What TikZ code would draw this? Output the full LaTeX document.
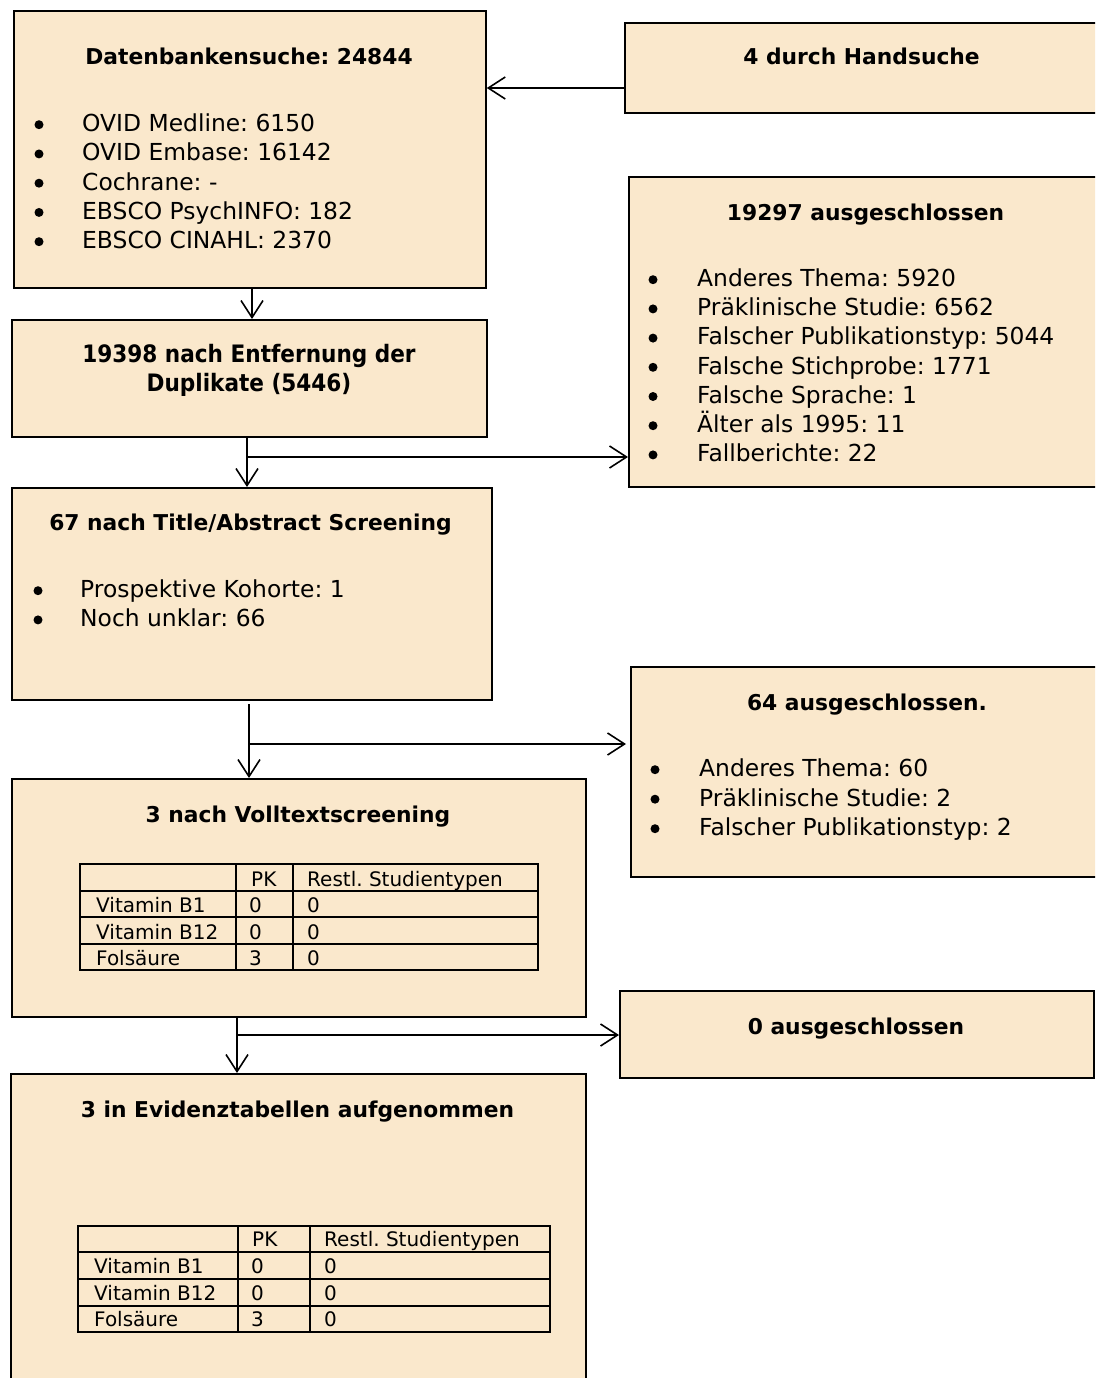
\documentclass[tikz,border=0pt]{standalone}
\usepackage{fontspec}
\setmainfont{DejaVu Sans}
\newfontfamily\condfont{DejaVu Sans Condensed}
\usetikzlibrary{arrows.meta}
\definecolor{beige}{RGB}{250,232,204}
\frenchspacing
\begin{document}
\begin{tikzpicture}[x=1pt,y=-1pt,
  box/.style={draw, line width=1.8pt, fill=beige, anchor=north west, inner sep=0pt},
  ttl/.style={inner sep=0pt, anchor=base, font=\bfseries\fontsize{21.8}{26}\selectfont},
  cttl/.style={inner sep=0pt, anchor=base, font=\condfont\bfseries\fontsize{24}{29}\selectfont},
  txt/.style={inner sep=0pt, anchor=base west, font=\fontsize{23.4}{28}\selectfont},
  bul/.style={circle, fill, inner sep=0pt, minimum size=9pt},
  cell/.style={inner sep=0pt, anchor=base west, font=\fontsize{20}{24}\selectfont},
  grid/.style={line width=1.8pt},
  arr/.style={line width=1.6pt, -{Straight Barb[length=17pt,width=22pt,line width=1.6pt]}}]
\clip (0,0) rectangle (1095,1378);

% boxes
\node[box, minimum width=472, minimum height=277] (A) at (13,10) {};
\node[box, minimum width=490, minimum height=90]  (B) at (624,22) {};
\node[box, minimum width=475, minimum height=117] (C) at (11,319) {};
\node[box, minimum width=490, minimum height=310] (D) at (628,176) {};
\node[box, minimum width=480, minimum height=212] (E) at (11,487) {};
\node[box, minimum width=490, minimum height=210] (F) at (630,666) {};
\node[box, minimum width=574, minimum height=238] (G) at (11,778) {};
\node[box, minimum width=474, minimum height=87]  (I) at (619,990) {};
\node[box, minimum width=575, minimum height=330] (H) at (10,1073) {};

% titles
\node[ttl] (tA) at (249,65) {Datenbankensuche: 24844};
\node[ttl] (tB) at (861.5,65) {4 durch Handsuche};
\node[cttl] (tC1) at (249,362) {19398 nach Entfernung der};
\node[cttl] (tC2) at (249,391) {Duplikate (5446)};
\node[ttl] (tD) at (865.5,220) {19297 ausgeschlossen};
\node[ttl] (tE) at (250.5,530) {67 nach Title/Abstract Screening};
\node[ttl] (tF) at (867,710) {64 ausgeschlossen.};
\node[ttl] (tG) at (298,822) {3 nach Volltextscreening};
\node[ttl] (tI) at (856,1034) {0 ausgeschlossen};
\node[ttl] (tH) at (297.5,1117) {3 in Evidenztabellen aufgenommen};

% bullet lists
\foreach \t [count=\i] in {OVID Medline: 6150, OVID Embase: 16142, Cochrane: -,
    EBSCO PsychINFO: 182, EBSCO CINAHL: 2370} {
  \node[bul] (Ab\i) at (39,{131.5+29.25*(\i-1)-6.8}) {};
  \node[txt] (At\i) at (82,{131.5+29.25*(\i-1)}) {\t};
}
\foreach \t [count=\i] in {Anderes Thema: 5920, Präklinische Studie: 6562,
    Falscher Publikationstyp: 5044, Falsche Stichprobe: 1771, Falsche Sprache: 1,
    Älter als 1995: 11, Fallberichte: 22} {
  \node[bul] (Db\i) at (653,{286.5+29.2*(\i-1)-6.8}) {};
  \node[txt] (Dt\i) at (697,{286.5+29.2*(\i-1)}) {\t};
}
\foreach \t [count=\i] in {Prospektive Kohorte: 1, Noch unklar: 66} {
  \node[bul] (Eb\i) at (38,{597.5+29.2*(\i-1)-6.8}) {};
  \node[txt] (Et\i) at (80,{597.5+29.2*(\i-1)}) {\t};
}
\foreach \t [count=\i] in {Anderes Thema: 60, Präklinische Studie: 2,
    Falscher Publikationstyp: 2} {
  \node[bul] (Fb\i) at (655,{776.5+29.5*(\i-1)-6.8}) {};
  \node[txt] (Ft\i) at (699,{776.5+29.5*(\i-1)}) {\t};
}

% table after full-text screening
\draw[grid] (80,864) rectangle (538,970);
\foreach \yy in {891,917,944} \draw[grid] (80,\yy) -- (538,\yy);
\foreach \xx in {236,293} \draw[grid] (\xx,864) -- (\xx,970);
\node[cell] (g01) at (251,886) {PK};
\node[cell] (g02) at (307,886) {Restl. Studientypen};
\foreach \r/\yy/\pk [count=\i] in {Vitamin B1/912.5/0, Vitamin B12/939/0, Folsäure/965/3} {
  \node[cell] (g\i0) at (96,\yy) {\r};
  \node[cell] (g\i1) at (249,\yy) {\pk};
  \node[cell] (g\i2) at (307,\yy) {0};
}

% table of included studies
\draw[grid] (78,1226) rectangle (550,1332);
\foreach \yy in {1252,1279,1306} \draw[grid] (78,\yy) -- (550,\yy);
\foreach \xx in {238,310} \draw[grid] (\xx,1226) -- (\xx,1332);
\node[cell] (h01) at (252,1246.5) {PK};
\node[cell] (h02) at (324,1246.5) {Restl. Studientypen};
\foreach \r/\yy/\pk [count=\i] in {Vitamin B1/1273/0, Vitamin B12/1300/0, Folsäure/1326/3} {
  \node[cell] (h\i0) at (94,\yy) {\r};
  \node[cell] (h\i1) at (251,\yy) {\pk};
  \node[cell] (h\i2) at (324,\yy) {0};
}

% connectors
\coordinate (b0) at (624,88);
\draw[arr] (b0) -- (b0 -| A.east);

\coordinate (a0) at (252,287);
\draw[arr] (a0) -- (a0 |- C.north);

\coordinate (c0) at (247,436);
\coordinate (j1) at (247,457);
\draw[arr] (c0) -- (c0 |- E.north);
\draw[arr] (j1) -- (j1 -| D.west);

\coordinate (e0) at (249,704);
\coordinate (j2) at (249,744);
\draw[arr] (e0) -- (e0 |- G.north);
\draw[arr] (j2) -- (626,744);

\coordinate (g0) at (237,1016);
\coordinate (j3) at (237,1035);
\draw[arr] (g0) -- (g0 |- H.north);
\draw[arr] (j3) -- (j3 -| I.west);
\end{tikzpicture}
\end{document}
